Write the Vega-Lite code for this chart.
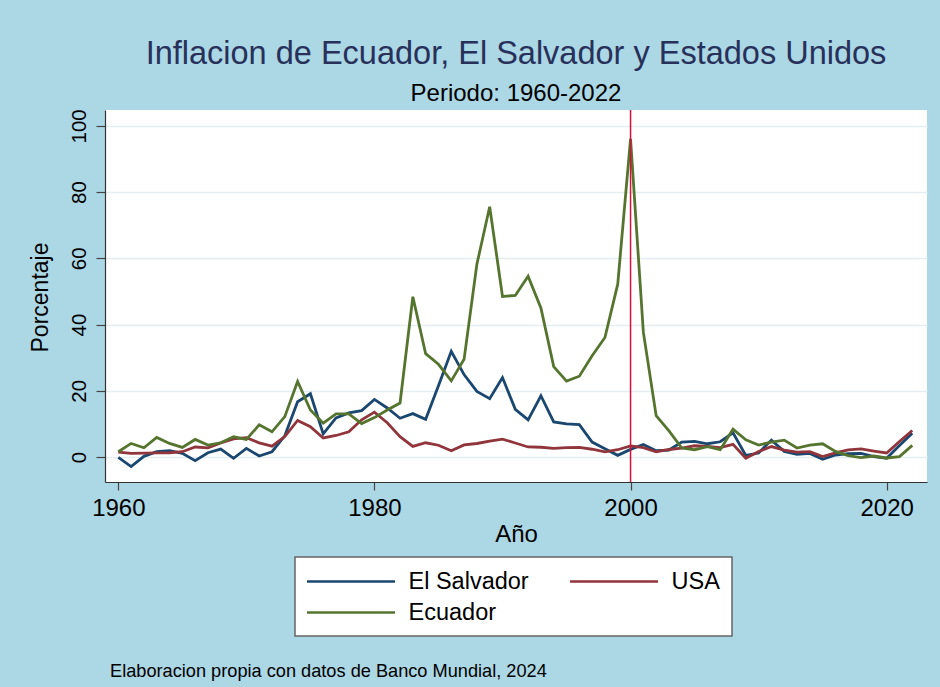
{
  "$schema": "https://vega.github.io/schema/vega-lite/v6.json",
  "width": 822,
  "height": 372,
  "autosize": {"type": "none"},
  "padding": {"left": 105, "top": 110, "right": 13, "bottom": 205},
  "background": "#acd7e5",
  "config": {
    "font": "Liberation Sans",
    "view": {"fill": "white", "stroke": null},
    "axis": {"domainColor": "#333333", "domainWidth": 1.2, "tickColor": "#444444", "tickWidth": 1.2, "labelColor": "black", "titleColor": "black", "titleFontWeight": "normal"},
    "legend": {"strokeWidth": 1.5}
  },
  "title": {
    "text": "Inflacion de Ecuador, El Salvador y Estados Unidos",
    "subtitle": "Periodo: 1960-2022",
    "anchor": "middle",
    "fontSize": 32.5,
    "fontWeight": "normal",
    "color": "#27315a",
    "subtitleFontSize": 24,
    "subtitleColor": "black",
    "offset": 3,
    "subtitlePadding": 11
  },
  "datasets": {
    "infl": [
      {"year": 1960, "El Salvador": -0.1, "USA": 1.46, "Ecuador": 1.6},
      {"year": 1961, "El Salvador": -2.9, "USA": 1.07, "Ecuador": 4.1},
      {"year": 1962, "El Salvador": 0.2, "USA": 1.2, "Ecuador": 2.8},
      {"year": 1963, "El Salvador": 1.6, "USA": 1.24, "Ecuador": 5.9},
      {"year": 1964, "El Salvador": 1.9, "USA": 1.28, "Ecuador": 4.1},
      {"year": 1965, "El Salvador": 1.1, "USA": 1.59, "Ecuador": 2.9},
      {"year": 1966, "El Salvador": -1.1, "USA": 3.01, "Ecuador": 5.3},
      {"year": 1967, "El Salvador": 1.3, "USA": 2.77, "Ecuador": 3.6},
      {"year": 1968, "El Salvador": 2.4, "USA": 4.27, "Ecuador": 4.3},
      {"year": 1969, "El Salvador": -0.4, "USA": 5.46, "Ecuador": 6.1},
      {"year": 1970, "El Salvador": 2.6, "USA": 5.84, "Ecuador": 5.3},
      {"year": 1971, "El Salvador": 0.3, "USA": 4.29, "Ecuador": 9.7},
      {"year": 1972, "El Salvador": 1.6, "USA": 3.27, "Ecuador": 7.6},
      {"year": 1973, "El Salvador": 6.4, "USA": 6.18, "Ecuador": 12.2},
      {"year": 1974, "El Salvador": 16.7, "USA": 11.05, "Ecuador": 22.8},
      {"year": 1975, "El Salvador": 19.1, "USA": 9.14, "Ecuador": 14.2},
      {"year": 1976, "El Salvador": 7.0, "USA": 5.74, "Ecuador": 10.2},
      {"year": 1977, "El Salvador": 11.8, "USA": 6.5, "Ecuador": 13.0},
      {"year": 1978, "El Salvador": 13.3, "USA": 7.63, "Ecuador": 13.0},
      {"year": 1979, "El Salvador": 14.0, "USA": 11.25, "Ecuador": 10.1},
      {"year": 1980, "El Salvador": 17.4, "USA": 13.55, "Ecuador": 11.9},
      {"year": 1981, "El Salvador": 14.8, "USA": 10.33, "Ecuador": 14.2},
      {"year": 1982, "El Salvador": 11.7, "USA": 6.13, "Ecuador": 16.3},
      {"year": 1983, "El Salvador": 13.1, "USA": 3.21, "Ecuador": 48.4},
      {"year": 1984, "El Salvador": 11.4, "USA": 4.3, "Ecuador": 31.2},
      {"year": 1985, "El Salvador": 21.5, "USA": 3.55, "Ecuador": 28.0},
      {"year": 1986, "El Salvador": 31.9, "USA": 1.9, "Ecuador": 23.0},
      {"year": 1987, "El Salvador": 24.9, "USA": 3.66, "Ecuador": 29.5},
      {"year": 1988, "El Salvador": 19.8, "USA": 4.08, "Ecuador": 58.2},
      {"year": 1989, "El Salvador": 17.6, "USA": 4.83, "Ecuador": 75.6},
      {"year": 1990, "El Salvador": 24.0, "USA": 5.4, "Ecuador": 48.5},
      {"year": 1991, "El Salvador": 14.4, "USA": 4.23, "Ecuador": 48.8},
      {"year": 1992, "El Salvador": 11.2, "USA": 3.03, "Ecuador": 54.6},
      {"year": 1993, "El Salvador": 18.5, "USA": 2.95, "Ecuador": 45.0},
      {"year": 1994, "El Salvador": 10.6, "USA": 2.61, "Ecuador": 27.3},
      {"year": 1995, "El Salvador": 10.0, "USA": 2.81, "Ecuador": 22.9},
      {"year": 1996, "El Salvador": 9.8, "USA": 2.93, "Ecuador": 24.4},
      {"year": 1997, "El Salvador": 4.5, "USA": 2.34, "Ecuador": 30.6},
      {"year": 1998, "El Salvador": 2.5, "USA": 1.55, "Ecuador": 36.1},
      {"year": 1999, "El Salvador": 0.5, "USA": 2.19, "Ecuador": 52.2},
      {"year": 2000, "El Salvador": 2.3, "USA": 3.38, "Ecuador": 96.1},
      {"year": 2001, "El Salvador": 3.8, "USA": 2.83, "Ecuador": 37.7},
      {"year": 2002, "El Salvador": 1.9, "USA": 1.59, "Ecuador": 12.5},
      {"year": 2003, "El Salvador": 2.1, "USA": 2.27, "Ecuador": 7.9},
      {"year": 2004, "El Salvador": 4.5, "USA": 2.68, "Ecuador": 2.7},
      {"year": 2005, "El Salvador": 4.7, "USA": 3.39, "Ecuador": 2.2},
      {"year": 2006, "El Salvador": 4.0, "USA": 3.23, "Ecuador": 3.1},
      {"year": 2007, "El Salvador": 4.6, "USA": 2.85, "Ecuador": 2.2},
      {"year": 2008, "El Salvador": 7.3, "USA": 3.84, "Ecuador": 8.4},
      {"year": 2009, "El Salvador": 0.5, "USA": -0.36, "Ecuador": 5.2},
      {"year": 2010, "El Salvador": 1.2, "USA": 1.64, "Ecuador": 3.6},
      {"year": 2011, "El Salvador": 5.1, "USA": 3.16, "Ecuador": 4.5},
      {"year": 2012, "El Salvador": 1.7, "USA": 2.07, "Ecuador": 5.1},
      {"year": 2013, "El Salvador": 0.8, "USA": 1.46, "Ecuador": 2.7},
      {"year": 2014, "El Salvador": 1.1, "USA": 1.62, "Ecuador": 3.6},
      {"year": 2015, "El Salvador": -0.7, "USA": 0.12, "Ecuador": 4.0},
      {"year": 2016, "El Salvador": 0.6, "USA": 1.26, "Ecuador": 1.7},
      {"year": 2017, "El Salvador": 1.0, "USA": 2.13, "Ecuador": 0.4},
      {"year": 2018, "El Salvador": 1.1, "USA": 2.44, "Ecuador": -0.2},
      {"year": 2019, "El Salvador": 0.1, "USA": 1.81, "Ecuador": 0.3},
      {"year": 2020, "El Salvador": -0.4, "USA": 1.23, "Ecuador": -0.3},
      {"year": 2021, "El Salvador": 3.5, "USA": 4.7, "Ecuador": 0.1},
      {"year": 2022, "El Salvador": 7.2, "USA": 8.0, "Ecuador": 3.5}
    ],
    "marker": [{"year": 2000}],
    "note": [{"text": "Elaboracion propia con datos de Banco Mundial, 2024"}]
  },
  "layer": [
    {
      "data": {"name": "infl"},
      "transform": [{"fold": ["El Salvador", "USA", "Ecuador"], "as": ["country", "value"]}],
      "mark": {"type": "line", "strokeWidth": 2.8},
      "encoding": {
        "x": {
          "field": "year", "type": "quantitative",
          "scale": {"domain": [1958.96, 2023.15], "nice": false, "zero": false},
          "axis": {"values": [1960, 1980, 2000, 2020], "format": "d", "title": "Año", "grid": false,
                   "tickSize": 8, "labelPadding": 25, "labelBaseline": "alphabetic", "labelFontSize": 24,
                   "titleFontSize": 24, "titleBaseline": "alphabetic", "titleY": 59}
        },
        "y": {
          "field": "value", "type": "quantitative",
          "scale": {"domain": [-7.55, 104.8], "nice": false, "zero": false},
          "axis": {"values": [0, 20, 40, 60, 80, 100], "title": "Porcentaje", "grid": true, "gridColor": "#e4edf0", "gridWidth": 1.5,
                   "tickSize": 9, "labelPadding": 10.5, "labelAngle": -90, "labelAlign": "center", "labelBaseline": "alphabetic",
                   "labelFontSize": 20.5, "titleFontSize": 23, "titleAngle": -90, "titleBaseline": "alphabetic", "titleX": -58, "titleY": 187}
        },
        "color": {
          "field": "country", "type": "nominal",
          "scale": {"domain": ["El Salvador", "USA", "Ecuador"], "range": ["#1a476f", "#90353b", "#55752f"]},
          "legend": {"title": null, "orient": "none", "legendX": 190, "legendY": 447, "columns": 2, "direction": "horizontal",
                     "symbolType": "M0,0H8", "symbolSize": 484, "symbolStrokeWidth": 2.5, "symbolOffset": -12.5,
                     "labelOffset": 89, "labelFontSize": 23.5, "labelColor": "black", "padding": 12,
                     "rowPadding": 7, "columnPadding": 36, "fillColor": "white", "strokeColor": "#666666"}
        }
      }
    },
    {
      "data": {"name": "marker"},
      "mark": {"type": "rule", "color": "#d5103c", "strokeWidth": 1.5},
      "encoding": {"x": {"field": "year", "type": "quantitative"}}
    },
    {
      "data": {"name": "note"},
      "mark": {"type": "text", "align": "left", "baseline": "alphabetic", "fontSize": 18.2, "color": "black"},
      "encoding": {
        "text": {"field": "text"},
        "x": {"datum": 1959.35, "type": "quantitative"},
        "y": {"datum": -66.5, "type": "quantitative"}
      }
    }
  ]
}
